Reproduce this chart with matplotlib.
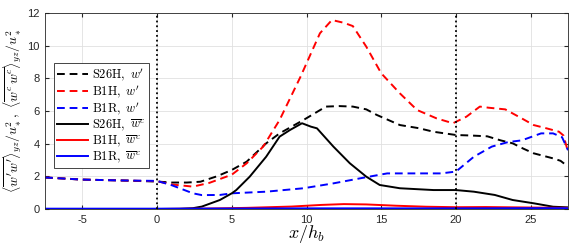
import numpy as np
import matplotlib
matplotlib.use("Agg")
import matplotlib.pyplot as plt

plt.rcParams['mathtext.fontset'] = 'cm'
plt.rcParams['font.family'] = ['Liberation Sans', 'DejaVu Sans']

# S26H, w' (dashed black)
x_s26_wp = [-7.5, -5, -2.5, 0, 1, 2, 2.9, 4, 5, 6, 7.3, 8.2, 9.8, 11.3, 12.2, 13.1, 14.0, 14.7, 16.25, 17.5, 18.5, 20.0, 21, 22.1, 23.0, 23.8, 24.5, 25.2, 26.5, 27.0, 27.5]
y_s26_wp = [1.93, 1.8, 1.75, 1.68, 1.62, 1.62, 1.67, 2.0, 2.39, 2.9, 4.02, 4.63, 5.45, 6.27, 6.3, 6.27, 6.1, 5.76, 5.14, 4.95, 4.73, 4.53, 4.5, 4.45, 4.2, 4.02, 3.7, 3.41, 3.1, 2.95, 2.6]

# B1H, w' (dashed red)
x_b1h_wp = [-7.5, -5, -2.5, 0, 1, 2.4, 3.5, 5.0, 6.0, 7.1, 8.2, 9.6, 10.9, 11.7, 12.5, 13.1, 14.0, 15.0, 16.25, 17.4, 18.7, 19.8, 20.7, 21.6, 22.2, 23.3, 24.4, 25.2, 26.1, 26.9, 27.2, 27.5]
y_b1h_wp = [1.93, 1.8, 1.75, 1.7, 1.5, 1.37, 1.6, 2.1, 2.8, 3.82, 5.45, 8.1, 10.76, 11.57, 11.4, 11.2, 9.94, 8.31, 7.08, 6.06, 5.55, 5.25, 5.65, 6.27, 6.2, 6.1, 5.55, 5.14, 4.93, 4.73, 4.5, 3.5]

# B1R, w' (dashed blue)
x_b1r_wp = [-7.5, -5, -2.5, 0, 1, 2.4, 3.0, 4.2, 5.0, 7.3, 9.8, 11.8, 13.6, 15.4, 16.7, 19.0, 20.0, 21.2, 22.4, 23.5, 24.4, 25.7, 26.5, 27.1, 27.5]
y_b1r_wp = [1.93, 1.8, 1.75, 1.72, 1.45, 0.96, 0.85, 0.86, 0.96, 1.06, 1.27, 1.57, 1.88, 2.18, 2.18, 2.18, 2.29, 3.2, 3.82, 4.1, 4.2, 4.63, 4.63, 4.4, 3.6]

# S26H, w^c (solid black)
x_s26_wc = [-7.5, 0, 1.5, 2.4, 3.0, 4.2, 5.0, 5.3, 6.2, 7.3, 8.2, 8.9, 9.7, 10.3, 10.7, 11.8, 12.9, 14.0, 14.9, 16.25, 18.5, 20.0, 21.2, 22.6, 23.8, 25.2, 26.5, 27.5]
y_s26_wc = [0.0, 0.0, 0.01, 0.05, 0.15, 0.55, 0.96, 1.16, 1.98, 3.2, 4.43, 4.84, 5.25, 5.04, 4.94, 3.82, 2.8, 1.98, 1.47, 1.27, 1.16, 1.16, 1.06, 0.86, 0.55, 0.35, 0.14, 0.1]

# B1H, w^c (solid red)
x_b1h_wc = [-7.5, 0, 3, 6, 9, 11, 12.5, 14, 16, 18, 20, 22, 24, 26, 27.5]
y_b1h_wc = [0.0, 0.0, 0.02, 0.07, 0.15, 0.25, 0.3, 0.28, 0.2, 0.14, 0.11, 0.12, 0.1, 0.08, 0.07]

# B1R, w^c (solid blue)
x_b1r_wc = [-7.5, 0, 5, 10, 15, 20, 25, 27.5]
y_b1r_wc = [0.02, 0.02, 0.03, 0.04, 0.04, 0.04, 0.05, 0.05]

xticks = [-5, 0, 5, 10, 15, 20, 25]
yticks = [0, 2, 4, 6, 8, 10, 12]

fig = plt.figure(figsize=(5.81, 2.49), dpi=100)
ax = fig.add_axes([45/581, 1-209/249, (568-45)/581, (209-13)/249])

lw = 1.4
dash = (0, (4, 2.5))
ax.plot(x_s26_wp, y_s26_wp, color='black', lw=lw, linestyle=dash, label=r"$\mathrm{S26H},\ w'$")
ax.plot(x_b1h_wp, y_b1h_wp, color='red', lw=lw, linestyle=dash, label=r"$\mathrm{B1H},\ w'$")
ax.plot(x_b1r_wp, y_b1r_wp, color='blue', lw=lw, linestyle=dash, label=r"$\mathrm{B1R},\ w'$")
ax.plot(x_s26_wc, y_s26_wc, color='black', lw=lw, label=r"$\mathrm{S26H},\ \overline{w}^c$")
ax.plot(x_b1h_wc, y_b1h_wc, color='red', lw=lw, label=r"$\mathrm{B1H},\ \overline{w}^c$")
ax.plot(x_b1r_wc, y_b1r_wc, color='blue', lw=lw, label=r"$\mathrm{B1R},\ \overline{w}^c$")

ax.axvline(0, color='black', lw=1.3, linestyle=':')
ax.axvline(20, color='black', lw=1.3, linestyle=':')

ax.set_xlim(-7.5, 27.5)
ax.set_ylim(0, 12)
ax.set_xticks(xticks)
ax.set_yticks(yticks)
ax.set_xticklabels([str(t) for t in xticks])
ax.grid(True, color='#e0e0e0', lw=0.6)
ax.set_axisbelow(True)
ax.tick_params(direction='in', top=True, right=True, labelsize=8, colors='#262626', length=3, pad=4)
for s in ax.spines.values():
    s.set_color('#262626')
    s.set_linewidth(0.6)

ax.set_xlabel(r"$x/h_b$", fontsize=13, labelpad=-1)
ax.set_ylabel(r"$\langle\overline{w'w'}\rangle_{yz}/u_*^2,\ \langle\overline{w^c}\,\overline{w^c}\rangle_{yz}/u_*^2$", fontsize=9.8, labelpad=2)

leg = ax.legend(loc='upper left', bbox_to_anchor=(9/523, 1-50/196), fontsize=9,
                frameon=True, fancybox=False, edgecolor='#262626', framealpha=1,
                handlelength=2.5, handletextpad=0.3, labelspacing=0.05, borderpad=0.25, borderaxespad=0)
leg.get_frame().set_linewidth(0.6)

fig.savefig("out.png", dpi=100)
